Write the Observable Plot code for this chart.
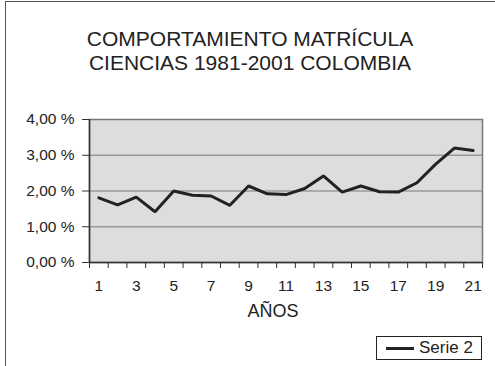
<!DOCTYPE html>
<html>
<head>
<meta charset="utf-8">
<script src="https://cdn.jsdelivr.net/npm/d3@7"></script>
<script src="https://cdn.jsdelivr.net/npm/@observablehq/plot@0.6"></script>
<style>
  html, body { margin: 0; padding: 0; background: #fff; }
  #wrap { position: relative; width: 495px; height: 366px; overflow: hidden; font-family: "Liberation Sans", Arial, Helvetica, sans-serif; color: #222; }
  #frameTop { position: absolute; left: 5px; top: 1px; width: 490px; height: 0; border-top: 1.5px solid #555; }
  #frameLeft { position: absolute; left: 5px; top: 1px; width: 0; height: 366px; border-left: 1.5px solid #555; }
  #title { position: absolute; left: 0; width: 500px; top: 27px; text-align: center; font-size: 21px; line-height: 24px; color: #222; }
  #legend { position: absolute; left: 376px; top: 336px; width: 104px; height: 22px; border: 1px solid #222; background: #fff; font-size: 17px; line-height: 22px; }
  #legend .sw { position: absolute; left: 9px; top: 10px; width: 28px; height: 0; border-top: 3px solid #222; }
  #legend .lb { position: absolute; left: 42px; top: 0; }
  #chart { position: absolute; left: 0; top: 0; }
</style>
</head>
<body>
<div id="wrap">
  <div id="frameTop"></div>
  <div id="frameLeft"></div>
  <div id="chart"></div>
  <div id="title">COMPORTAMIENTO MATRÍCULA<br>CIENCIAS 1981-2001 COLOMBIA</div>
  <div id="legend"><div class="sw"></div><div class="lb">Serie 2</div></div>
</div>
<script>
// Data
const years = [1,2,3,4,5,6,7,8,9,10,11,12,13,14,15,16,17,18,19,20,21];
const serie2 = [1.81,1.61,1.83,1.42,2.00,1.88,1.86,1.60,2.14,1.92,1.90,2.07,2.42,1.97,2.14,1.98,1.97,2.23,2.75,3.20,3.13];
const yTicks = [0,1,2,3,4];
const xLabels = [1,3,5,7,9,11,13,15,17,19,21];
const xTitle = "AÑOS";

const data = years.map((y, i) => ({year: y, value: serie2[i]}));
const boundaries = d3.range(0.5, 21.6, 1);

const plot = Plot.plot({
  width: 495,
  height: 366,
  marginLeft: 89,
  marginRight: 13,
  marginTop: 119,
  marginBottom: 104,
  style: {fontFamily: '"Liberation Sans", Arial, Helvetica, sans-serif', fontSize: "15.5px", color: "#222", background: "transparent"},
  x: {domain: [0.5, 21.5]},
  y: {domain: [0, 4]},
  marks: [
    Plot.frame({fill: "#dcdddf"}),
    Plot.gridY([1, 2, 3], {stroke: "#9a9a9a", strokeOpacity: 1, strokeWidth: 1.5}),
    Plot.frame({stroke: "#7a7a7a", strokeWidth: 1.5}),
    Plot.line(data, {x: "year", y: "value", stroke: "#222", strokeWidth: 3, strokeLinejoin: "miter"}),
    Plot.axisY({ticks: yTicks, tickFormat: d => d.toFixed(2).replace(".", ",") + " %", tickSize: 7, tickPadding: 8, label: null, stroke: "#333"}),
    Plot.axisX({ticks: boundaries, tickFormat: () => "", tickSize: 6, label: null, stroke: "#333"}),
    Plot.axisX({ticks: xLabels, tickFormat: d => String(d), tickSize: 0, tickPadding: 17, label: null}),
    Plot.ruleY([0], {stroke: "#333", strokeWidth: 1.5}),
    Plot.ruleX([0.5], {stroke: "#333", strokeWidth: 1.5}),
    Plot.text([xTitle], {frameAnchor: "bottom", dx: -13, dy: 54, fontSize: 18, fill: "#222"})
  ]
});
document.getElementById("chart").appendChild(plot);
</script>
</body>
</html>
